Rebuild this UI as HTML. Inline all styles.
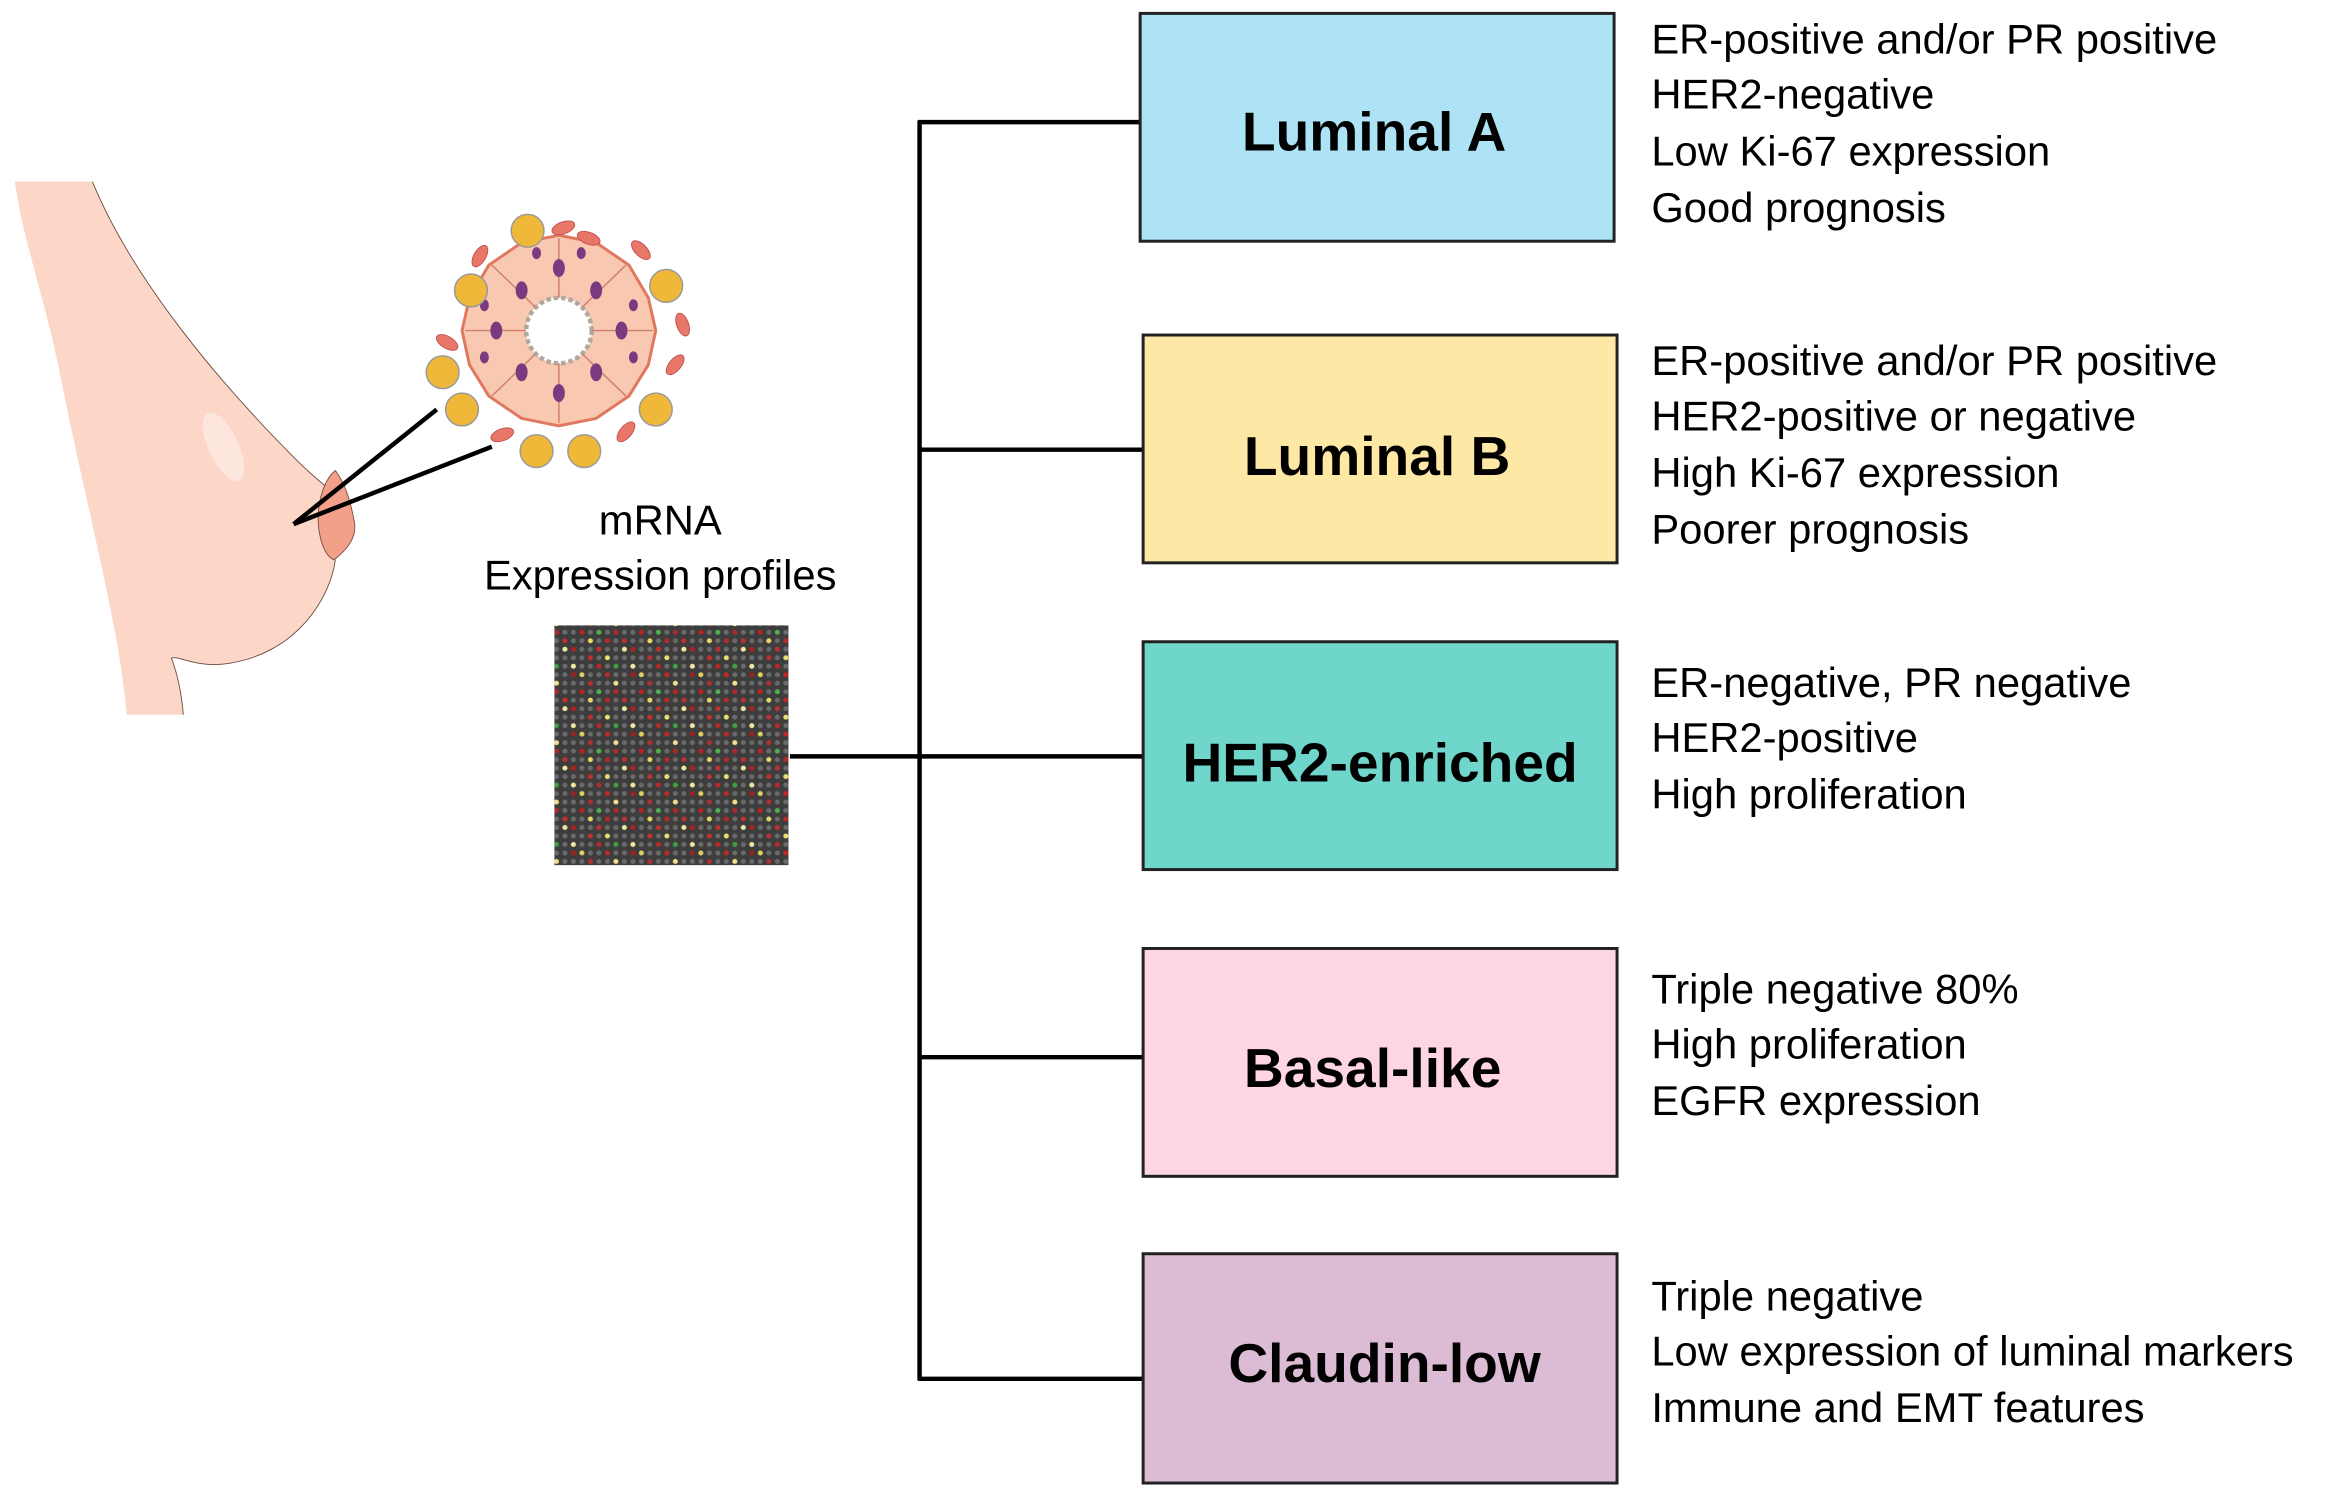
<!DOCTYPE html>
<html><head><meta charset="utf-8"><style>html,body{margin:0;padding:0;background:#fff}svg{display:block}</style></head><body>
<svg width="2325" height="1489" viewBox="0 0 1560 1000" preserveAspectRatio="none" xmlns="http://www.w3.org/2000/svg" font-family="Liberation Sans, Arial, sans-serif">
<defs>
<pattern id="dots" x="372" y="420" width="21" height="21" patternUnits="userSpaceOnUse" patternTransform="scale(1.9)">
<rect width="21" height="21" fill="#3d3d3d"/>
<circle cx="1.5" cy="1.5" r="0.9" fill="#6a6a6a"/><circle cx="4.5" cy="1.5" r="0.9" fill="#c03030"/><circle cx="7.5" cy="1.5" r="0.9" fill="#6a6a6a"/><circle cx="10.5" cy="1.5" r="0.9" fill="#e8e070"/><circle cx="13.5" cy="1.5" r="0.9" fill="#6a6a6a"/><circle cx="16.5" cy="1.5" r="0.9" fill="#6a6a6a"/><circle cx="19.5" cy="1.5" r="0.9" fill="#6a6a6a"/>
<circle cx="1.5" cy="4.5" r="0.9" fill="#6a6a6a"/><circle cx="4.5" cy="4.5" r="0.9" fill="#6a6a6a"/><circle cx="7.5" cy="4.5" r="0.9" fill="#b82828"/><circle cx="10.5" cy="4.5" r="0.9" fill="#6a6a6a"/><circle cx="13.5" cy="4.5" r="0.9" fill="#40a040"/><circle cx="16.5" cy="4.5" r="0.9" fill="#6a6a6a"/><circle cx="19.5" cy="4.5" r="0.9" fill="#f0e8a0"/>
<circle cx="1.5" cy="7.5" r="0.9" fill="#e0d060"/><circle cx="4.5" cy="7.5" r="0.9" fill="#6a6a6a"/><circle cx="7.5" cy="7.5" r="0.9" fill="#6a6a6a"/><circle cx="10.5" cy="7.5" r="0.9" fill="#c02828"/><circle cx="13.5" cy="7.5" r="0.9" fill="#6a6a6a"/><circle cx="16.5" cy="7.5" r="0.9" fill="#6a6a6a"/><circle cx="19.5" cy="7.5" r="0.9" fill="#a02020"/>
<circle cx="1.5" cy="10.5" r="0.9" fill="#6a6a6a"/><circle cx="4.5" cy="10.5" r="0.9" fill="#b03030"/><circle cx="7.5" cy="10.5" r="0.9" fill="#6a6a6a"/><circle cx="10.5" cy="10.5" r="0.9" fill="#6a6a6a"/><circle cx="13.5" cy="10.5" r="0.9" fill="#f0e090"/><circle cx="16.5" cy="10.5" r="0.9" fill="#6a6a6a"/><circle cx="19.5" cy="10.5" r="0.9" fill="#6a6a6a"/>
<circle cx="1.5" cy="13.5" r="0.9" fill="#c02020"/><circle cx="4.5" cy="13.5" r="0.9" fill="#6a6a6a"/><circle cx="7.5" cy="13.5" r="0.9" fill="#50b050"/><circle cx="10.5" cy="13.5" r="0.9" fill="#6a6a6a"/><circle cx="13.5" cy="13.5" r="0.9" fill="#b02828"/><circle cx="16.5" cy="13.5" r="0.9" fill="#6a6a6a"/><circle cx="19.5" cy="13.5" r="0.9" fill="#6a6a6a"/>
<circle cx="1.5" cy="16.5" r="0.9" fill="#6a6a6a"/><circle cx="4.5" cy="16.5" r="0.9" fill="#e8d868"/><circle cx="7.5" cy="16.5" r="0.9" fill="#6a6a6a"/><circle cx="10.5" cy="16.5" r="0.9" fill="#b82828"/><circle cx="13.5" cy="16.5" r="0.9" fill="#6a6a6a"/><circle cx="16.5" cy="16.5" r="0.9" fill="#c03030"/><circle cx="19.5" cy="16.5" r="0.9" fill="#6a6a6a"/>
<circle cx="1.5" cy="19.5" r="0.9" fill="#6a6a6a"/><circle cx="4.5" cy="19.5" r="0.9" fill="#6a6a6a"/><circle cx="7.5" cy="19.5" r="0.9" fill="#c03030"/><circle cx="10.5" cy="19.5" r="0.9" fill="#6a6a6a"/><circle cx="13.5" cy="19.5" r="0.9" fill="#6a6a6a"/><circle cx="16.5" cy="19.5" r="0.9" fill="#f0e8a0"/><circle cx="19.5" cy="19.5" r="0.9" fill="#b02020"/>
</pattern>
</defs>
<!-- breast -->
<path d="M10,122 L62,122 C90,190 150,260 200,310 C215,325 225,330 228,338 C232,345 238,352 236,360 C233,368 228,372 225,376 C222,400 200,440 150,446 C130,448 120,440 115,442 C120,455 122,468 123,480 L85,480 C80,420 60,350 40,250 C30,200 15,160 10,122 Z" fill="#fcd6c6"/>
<path d="M62,122 C90,190 150,260 200,310 C215,325 225,330 228,338 M225,376 C222,400 200,440 150,446 C130,448 120,440 115,442 C120,455 122,468 123,480" fill="none" stroke="#6b4a40" stroke-width="0.6"/>
<path d="M225,316 C232,325 236,340 238,352 C239,362 232,370 224,376 C216,372 212,355 214,340 C216,328 220,320 225,316 Z" fill="#f3a08a" stroke="#7a4a40" stroke-width="0.6"/>
<ellipse cx="150" cy="300" rx="10" ry="25" fill="#fde6de" transform="rotate(-25 150 300)"/>
<!-- connector lines -->
<line x1="197" y1="352" x2="293" y2="275" stroke="#000" stroke-width="3"/>
<line x1="197" y1="352" x2="330" y2="300" stroke="#000" stroke-width="3"/>
<!-- acinus -->
<g>
<polygon points="375,158 400,163 422,178 435,200 440,222 435,245 422,266 400,281 375,286 350,281 328,266 315,245 310,222 315,200 328,178 350,163" fill="#f9c8b0" stroke="#e07860" stroke-width="2"/>
<circle cx="375" cy="222" r="22" fill="#fff" stroke="#b0a8a0" stroke-width="3" stroke-dasharray="3 2"/>
<g stroke="#d08070" stroke-width="1">
<line x1="375" y1="200" x2="375" y2="160"/><line x1="375" y1="244" x2="375" y2="284"/>
<line x1="353" y1="222" x2="312" y2="222"/><line x1="397" y1="222" x2="438" y2="222"/>
<line x1="359" y1="206" x2="330" y2="178"/><line x1="391" y1="206" x2="420" y2="178"/>
<line x1="359" y1="238" x2="330" y2="266"/><line x1="391" y1="238" x2="420" y2="266"/>
</g>
<g fill="#7a3a80">
<ellipse cx="375" cy="180" rx="4" ry="6"/><ellipse cx="375" cy="264" rx="4" ry="6"/><ellipse cx="333" cy="222" rx="4" ry="6"/><ellipse cx="417" cy="222" rx="4" ry="6"/>
<ellipse cx="350" cy="195" rx="4" ry="6"/><ellipse cx="400" cy="195" rx="4" ry="6"/><ellipse cx="350" cy="250" rx="4" ry="6"/><ellipse cx="400" cy="250" rx="4" ry="6"/>
<ellipse cx="360" cy="170" rx="3" ry="4"/><ellipse cx="390" cy="170" rx="3" ry="4"/><ellipse cx="325" cy="205" rx="3" ry="4"/><ellipse cx="425" cy="205" rx="3" ry="4"/><ellipse cx="325" cy="240" rx="3" ry="4"/><ellipse cx="425" cy="240" rx="3" ry="4"/>
</g>
<g fill="#f0b838" stroke="#9a9a9a" stroke-width="1">
<circle cx="316" cy="195" r="11"/><circle cx="354" cy="155" r="11"/><circle cx="297" cy="250" r="11"/><circle cx="310" cy="275" r="11"/><circle cx="360" cy="303" r="11"/><circle cx="392" cy="303" r="11"/><circle cx="440" cy="275" r="11"/><circle cx="447" cy="192" r="11"/>
</g>
<g fill="#e8776a" stroke="#c05050" stroke-width="0.6">
<ellipse cx="378" cy="153" rx="8" ry="4" transform="rotate(-20 378 153)"/><ellipse cx="395" cy="160" rx="8" ry="4" transform="rotate(20 395 160)"/><ellipse cx="430" cy="168" rx="8" ry="4" transform="rotate(45 430 168)"/><ellipse cx="322" cy="172" rx="8" ry="4" transform="rotate(-60 322 172)"/><ellipse cx="300" cy="230" rx="8" ry="4" transform="rotate(30 300 230)"/><ellipse cx="458" cy="218" rx="8" ry="4" transform="rotate(70 458 218)"/><ellipse cx="453" cy="245" rx="8" ry="4" transform="rotate(-50 453 245)"/><ellipse cx="420" cy="290" rx="8" ry="4" transform="rotate(-50 420 290)"/><ellipse cx="337" cy="292" rx="8" ry="4" transform="rotate(-20 337 292)"/>
</g>
</g>
<text x="443" y="359" font-size="28" text-anchor="middle" fill="#000">mRNA</text>
<text x="443" y="396" font-size="28" text-anchor="middle" fill="#000">Expression profiles</text>
<rect x="372" y="420" width="157" height="161" fill="url(#dots)"/>
<!-- tree -->
<g stroke="#000" stroke-width="3" fill="none">
<line x1="530" y1="508" x2="617" y2="508"/>
<line x1="617" y1="81" x2="617" y2="927"/>
<line x1="616" y1="82" x2="765" y2="82"/>
<line x1="616" y1="302" x2="767" y2="302"/>
<line x1="616" y1="508" x2="767" y2="508"/>
<line x1="616" y1="710" x2="767" y2="710"/>
<line x1="616" y1="926" x2="767" y2="926"/>
</g>
<g stroke="#222" stroke-width="2">
<rect x="765" y="9" width="318" height="153" fill="#aee3f5"/>
<rect x="767" y="225" width="318" height="153" fill="#fde8a6"/>
<rect x="767" y="431" width="318" height="153" fill="#6fd6cb"/>
<rect x="767" y="637" width="318" height="153" fill="#fdd6e2"/>
<rect x="767" y="842" width="318" height="154" fill="#dcbcd5"/>
</g>
<g font-size="37" font-weight="bold" text-anchor="middle" fill="#000">
<text x="922" y="101">Luminal A</text>
<text x="924" y="319">Luminal B</text>
<text x="926" y="525">HER2-enriched</text>
<text x="921" y="730">Basal-like</text>
<text x="929" y="928">Claudin-low</text>
</g>
<g font-size="28" fill="#000">
<text x="1108" y="36">ER-positive and/or PR positive</text>
<text x="1108" y="73">HER2-negative</text>
<text x="1108" y="111">Low Ki-67 expression</text>
<text x="1108" y="149">Good prognosis</text>
<text x="1108" y="252">ER-positive and/or PR positive</text>
<text x="1108" y="289">HER2-positive or negative</text>
<text x="1108" y="327">High Ki-67 expression</text>
<text x="1108" y="365">Poorer prognosis</text>
<text x="1108" y="468">ER-negative, PR negative</text>
<text x="1108" y="505">HER2-positive</text>
<text x="1108" y="543">High proliferation</text>
<text x="1108" y="674">Triple negative 80%</text>
<text x="1108" y="711">High proliferation</text>
<text x="1108" y="749">EGFR expression</text>
<text x="1108" y="880">Triple negative</text>
<text x="1108" y="917">Low expression of luminal markers</text>
<text x="1108" y="955">Immune and EMT features</text>
</g>
</svg>
</body></html>
